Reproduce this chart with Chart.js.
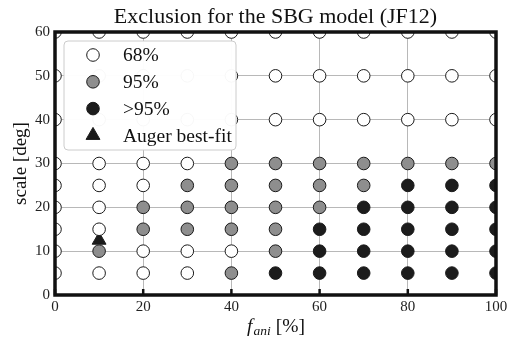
<!DOCTYPE html>
<html>
<head>
<meta charset="utf-8">
<script src="https://cdn.jsdelivr.net/npm/chart.js@4.4.1/dist/chart.umd.min.js"></script>
<style>
html, body { margin: 0; padding: 0; background: #fff; }
</style>
</head>
<body>
<canvas id="chart" width="512" height="338"></canvas>
<script>
const fani = [0, 10, 20, 30, 40, 50, 60, 70, 80, 90, 100];
const scales = [5, 10, 15, 20, 25, 30, 40, 50, 60];
// exclusion level for each scale row, one entry per fani column: 0 = 68%, 1 = 95%, 2 = >95%
const levels = [
    [0, 0, 0, 0, 1, 2, 2, 2, 2, 2, 2],
    [0, 1, 0, 0, 0, 1, 2, 2, 2, 2, 2],
    [0, 0, 1, 1, 1, 1, 2, 2, 2, 2, 2],
    [0, 0, 1, 1, 1, 1, 1, 2, 2, 2, 2],
    [0, 0, 0, 1, 1, 1, 1, 1, 2, 2, 2],
    [0, 0, 0, 0, 1, 1, 1, 1, 1, 1, 1],
    [0, 0, 0, 0, 0, 0, 0, 0, 0, 0, 0],
    [0, 0, 0, 0, 0, 0, 0, 0, 0, 0, 0],
    [0, 0, 0, 0, 0, 0, 0, 0, 0, 0, 0]
];
const levelLabels = ["68%", "95%", ">95%"];
const levelColors = ["#ffffff", "#8e8e8e", "#1c1c1c"];
const augerLabel = "Auger best-fit";
const augerFit = [{ x: 10, y: 12.5 }];
const xTicks = [0, 20, 40, 60, 80, 100];
const yTicks = [0, 10, 20, 30, 40, 50, 60];

const SERIF = "'Liberation Serif', 'DejaVu Serif', serif";

function pointsFor(level) {
    const pts = [];
    scales.forEach((s, i) => {
        fani.forEach((f, j) => {
            if (levels[i][j] === level) pts.push({ x: f, y: s });
        });
    });
    return pts;
}

const datasets = levelLabels.map((label, k) => ({
    label: label,
    data: pointsFor(k),
    backgroundColor: levelColors[k],
    borderColor: "#1a1a1a",
    borderWidth: 1,
    pointRadius: 6.3,
    pointHoverRadius: 6.3,
    clip: 0
}));
datasets.push({
    label: augerLabel,
    data: augerFit,
    pointStyle: "triangle",
    backgroundColor: "#1a1a1a",
    borderColor: "#1a1a1a",
    borderWidth: 1,
    pointRadius: 8,
    pointHoverRadius: 8,
    clip: 0
});

function drawMarker(ctx, ds, x, y) {
    ctx.save();
    ctx.fillStyle = ds.backgroundColor;
    ctx.strokeStyle = ds.borderColor;
    ctx.lineWidth = ds.borderWidth;
    ctx.beginPath();
    if (ds.pointStyle === "triangle") {
        const r = ds.pointRadius;
        ctx.moveTo(x, y - r);
        ctx.lineTo(x + r * Math.cos(Math.PI / 6), y + r / 2);
        ctx.lineTo(x - r * Math.cos(Math.PI / 6), y + r / 2);
        ctx.closePath();
    } else {
        ctx.arc(x, y, ds.pointRadius, 0, Math.PI * 2);
    }
    ctx.fill();
    ctx.stroke();
    ctx.restore();
}

const framePlugin = {
    id: "frame",
    beforeDatasetsDraw(chart) {
        // small inward tick marks on the bottom axis
        const { ctx, chartArea: a, scales: { x } } = chart;
        ctx.save();
        ctx.strokeStyle = "#111";
        ctx.lineWidth = 2.5;
        xTicks.forEach(v => {
            const px = x.getPixelForValue(v);
            ctx.beginPath();
            ctx.moveTo(px, a.bottom);
            ctx.lineTo(px, a.bottom - 6);
            ctx.stroke();
        });
        ctx.restore();
    },
    afterDatasetsDraw(chart) {
        const { ctx, chartArea: a } = chart;
        ctx.save();
        ctx.strokeStyle = "#111";
        ctx.lineWidth = 3.5;
        ctx.strokeRect(a.left, a.top, a.right - a.left, a.bottom - a.top);

        // legend box inside the plot
        const bx = a.left + 9, by = a.top + 9, bw = 172, bh = 109;
        ctx.beginPath();
        ctx.roundRect(bx, by, bw, bh, 4);
        ctx.fillStyle = "rgba(255,255,255,0.97)";
        ctx.fill();
        ctx.strokeStyle = "#cccccc";
        ctx.lineWidth = 1;
        ctx.stroke();

        ctx.font = "19.5px " + SERIF;
        ctx.textBaseline = "middle";
        ctx.textAlign = "left";
        chart.data.datasets.forEach((ds, i) => {
            const yy = by + 14 + i * 26.8;
            drawMarker(ctx, ds, bx + 29, yy);
            ctx.fillStyle = "#111";
            ctx.fillText(ds.label, bx + 59, yy + 1);
        });
        ctx.restore();
    },
    afterDraw(chart) {
        // x-axis title with italic f and subscript "ani"
        const { ctx, chartArea: a } = chart;
        ctx.save();
        ctx.fillStyle = "#111";
        ctx.textBaseline = "alphabetic";
        ctx.textAlign = "left";
        const fMain = "italic 19.5px " + SERIF;
        const fSub = "italic 13.5px " + SERIF;
        const fRest = "19.5px " + SERIF;
        ctx.font = fMain; const w1 = ctx.measureText("f").width;
        ctx.font = fSub; const w2 = ctx.measureText("ani").width;
        ctx.font = fRest; const w3 = ctx.measureText(" [%]").width;
        let x0 = (a.left + a.right) / 2 - (w1 + w2 + w3) / 2;
        const base = 332;
        ctx.font = fMain; ctx.fillText("f", x0, base); x0 += w1 + 1;
        ctx.font = fSub; ctx.fillText("ani", x0, base + 3); x0 += w2;
        ctx.font = fRest; ctx.fillText(" [%]", x0, base);
        ctx.restore();
    }
};

new Chart(document.getElementById("chart"), {
    type: "scatter",
    data: { datasets: datasets },
    options: {
        responsive: false,
        animation: false,
        layout: { padding: { left: 0, right: 16, top: 0, bottom: 0 } },
        plugins: {
            legend: { display: false },
            tooltip: { enabled: false },
            title: {
                display: true,
                text: "Exclusion for the SBG model (JF12)",
                fullSize: false,
                color: "#111",
                font: { family: SERIF, size: 22, weight: "normal", lineHeight: 1.2 },
                padding: { top: 4, bottom: 1.6 }
            }
        },
        scales: {
            x: {
                type: "linear",
                min: 0,
                max: 100,
                afterBuildTicks: s => { s.ticks = xTicks.map(v => ({ value: v })); },
                afterFit: s => { s.height = 43; },
                grid: { color: "#b8b8b8", lineWidth: 1, drawTicks: false },
                border: { display: false },
                ticks: {
                    color: "#222",
                    padding: 3,
                    maxRotation: 0,
                    font: { family: SERIF, size: 15 }
                }
            },
            y: {
                type: "linear",
                min: 0,
                max: 60,
                afterBuildTicks: s => { s.ticks = yTicks.map(v => ({ value: v })); },
                afterFit: s => { s.width = 55; },
                grid: { color: "#b8b8b8", lineWidth: 1, drawTicks: false },
                border: { display: false },
                title: {
                    display: true,
                    text: "scale [deg]",
                    color: "#111",
                    font: { family: SERIF, size: 19 },
                    padding: { top: 10, bottom: 0 }
                },
                ticks: {
                    color: "#222",
                    padding: 5,
                    font: { family: SERIF, size: 15 }
                }
            }
        }
    },
    plugins: [framePlugin]
});
</script>
</body>
</html>
